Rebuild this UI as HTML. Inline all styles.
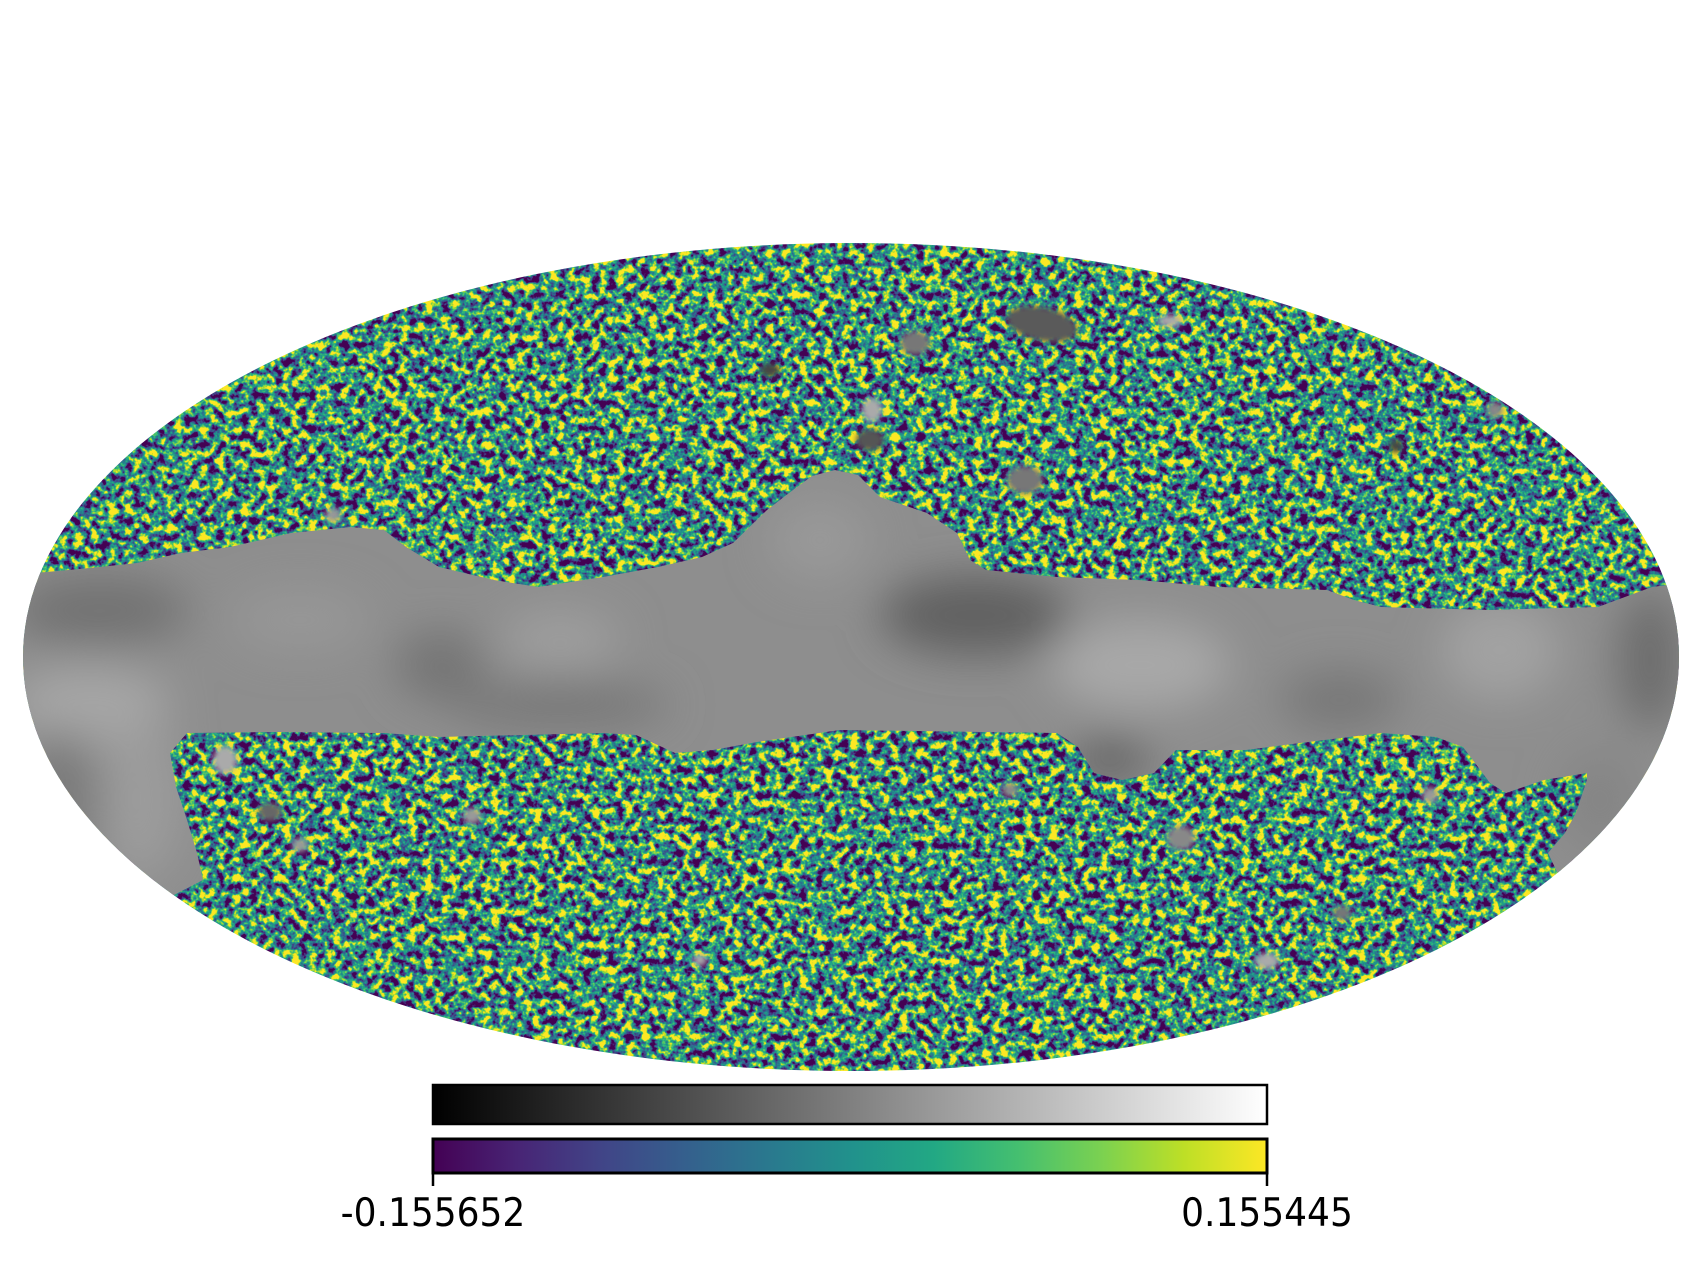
<!DOCTYPE html>
<html>
<head>
<meta charset="utf-8">
<style>
  html, body { margin: 0; padding: 0; background: #fff; }
  svg { display: block; }
</style>
</head>
<body>
<svg width="1684" height="1263" viewBox="0 0 1684 1263" xmlns="http://www.w3.org/2000/svg">
  <defs>
    <clipPath id="ell">
      <ellipse cx="851" cy="657" rx="828" ry="414"/>
    </clipPath>
    <clipPath id="band">
      <path d="M0,576 L36,573 L90,568 L137,563 L181,553 L230,547 L291,533 L351,527 L384,530 L406,547 L439,567 L494,580 L538,587 L603,577 L658,567 L702,557 L733,543 L767,510 L793,490 L812,476 L835,470 L858,475 L880,497 L927,513 L957,533 L970,560 L986,570 L1057,577 L1138,580 L1219,587 L1327,590 L1354,600 L1381,607 L1490,610 L1598,607 L1652,587 L1684,583 L1684,880 L1560,878 L1548,853 L1565,833 L1576,813 L1587,780 L1587,773 L1544,780 L1506,793 L1490,783 L1463,747 L1436,737 L1381,733 L1300,743 L1246,750 L1176,750 L1154,773 L1122,780 L1094,773 L1078,747 L1057,733 L840,730 L757,742 L713,750 L675,753 L636,735 L603,733 L439,737 L384,733 L274,732 L187,733 L181,740 L170,753 L176,787 L187,820 L197,853 L203,880 L170,897 L0,897 Z"/>
    </clipPath>
    <filter id="vir" filterUnits="userSpaceOnUse" x="0" y="230" width="1684" height="860" color-interpolation-filters="sRGB">
      <feTurbulence type="fractalNoise" baseFrequency="0.12" numOctaves="3" seed="7"/>
      <feColorMatrix type="matrix" values="3.0 0 0 0 -1.0  3.0 0 0 0 -1.0  3.0 0 0 0 -1.0  0 0 0 0 1"/>
      <feComponentTransfer>
        <feFuncR type="table" tableValues="0.267 0.282 0.255 0.208 0.165 0.129 0.133 0.267 0.478 0.741 0.992"/>
        <feFuncG type="table" tableValues="0.004 0.141 0.267 0.373 0.471 0.569 0.659 0.749 0.820 0.875 0.906"/>
        <feFuncB type="table" tableValues="0.329 0.459 0.529 0.553 0.557 0.549 0.518 0.439 0.318 0.149 0.145"/>
      </feComponentTransfer>
    </filter>
    <filter id="blur" filterUnits="userSpaceOnUse" x="0" y="400" width="1684" height="600">
      <feGaussianBlur stdDeviation="22"/>
    </filter>
    <filter id="blur2" filterUnits="userSpaceOnUse" x="0" y="200" width="1684" height="900">
      <feGaussianBlur stdDeviation="3"/>
    </filter>
    <linearGradient id="gray" x1="0" y1="0" x2="1" y2="0">
      <stop offset="0" stop-color="#000"/>
      <stop offset="1" stop-color="#fff"/>
    </linearGradient>
    <linearGradient id="viridis" x1="0" y1="0" x2="1" y2="0">
      <stop offset="0" stop-color="#440154"/>
      <stop offset="0.1" stop-color="#482475"/>
      <stop offset="0.2" stop-color="#414487"/>
      <stop offset="0.3" stop-color="#355f8d"/>
      <stop offset="0.4" stop-color="#2a788e"/>
      <stop offset="0.5" stop-color="#21918c"/>
      <stop offset="0.6" stop-color="#22a884"/>
      <stop offset="0.7" stop-color="#44bf70"/>
      <stop offset="0.8" stop-color="#7ad151"/>
      <stop offset="0.9" stop-color="#bddf26"/>
      <stop offset="1" stop-color="#fde725"/>
    </linearGradient>
  </defs>

  <rect x="0" y="0" width="1684" height="1263" fill="#fff"/>

  <g clip-path="url(#ell)">
    <rect x="0" y="230" width="1684" height="860" fill="#000" filter="url(#vir)"/>

    <g filter="url(#blur2)">
      <ellipse cx="1042" cy="324" rx="36" ry="17" fill="#5a5a5a" transform="rotate(12 1042 324)"/>
      <ellipse cx="915" cy="343" rx="15" ry="12" fill="#777"/>
      <ellipse cx="770" cy="370" rx="10" ry="7" fill="#444"/>
      <ellipse cx="872" cy="410" rx="10" ry="12" fill="#aaa"/>
      <ellipse cx="870" cy="440" rx="14" ry="11" fill="#555"/>
      <ellipse cx="1025" cy="480" rx="18" ry="14" fill="#777"/>
      <ellipse cx="1170" cy="321" rx="12" ry="6" fill="#aaa"/>
      <ellipse cx="333" cy="515" rx="8" ry="7" fill="#999"/>
      <ellipse cx="1396" cy="446" rx="7" ry="7" fill="#444"/>
      <ellipse cx="1495" cy="410" rx="8" ry="8" fill="#888"/>
      <ellipse cx="225" cy="760" rx="12" ry="14" fill="#aaa"/>
      <ellipse cx="270" cy="812" rx="12" ry="9" fill="#666"/>
      <ellipse cx="300" cy="845" rx="8" ry="7" fill="#999"/>
      <ellipse cx="472" cy="816" rx="9" ry="8" fill="#999"/>
      <ellipse cx="1181" cy="838" rx="14" ry="12" fill="#888"/>
      <ellipse cx="1267" cy="961" rx="12" ry="8" fill="#aaa"/>
      <ellipse cx="1342" cy="913" rx="9" ry="7" fill="#777"/>
      <ellipse cx="1430" cy="795" rx="8" ry="8" fill="#999"/>
      <ellipse cx="1010" cy="790" rx="8" ry="7" fill="#888"/>
      <ellipse cx="700" cy="960" rx="7" ry="6" fill="#aaa"/>
    </g>

    <g clip-path="url(#band)">
      <rect x="0" y="450" width="1684" height="460" fill="#8e8e8e"/>
      <g filter="url(#blur)">
        <ellipse cx="100" cy="610" rx="90" ry="35" fill="#727272"/>
        <ellipse cx="90" cy="705" rx="80" ry="40" fill="#a6a6a6"/>
        <ellipse cx="140" cy="800" rx="40" ry="80" fill="#9c9c9c"/>
        <ellipse cx="60" cy="800" rx="40" ry="70" fill="#7a7a7a"/>
        <ellipse cx="300" cy="620" rx="70" ry="30" fill="#979797"/>
        <ellipse cx="440" cy="665" rx="45" ry="35" fill="#747474"/>
        <ellipse cx="560" cy="640" rx="60" ry="30" fill="#9e9e9e"/>
        <ellipse cx="560" cy="705" rx="110" ry="22" fill="#767676"/>
        <ellipse cx="820" cy="540" rx="50" ry="40" fill="#999"/>
        <ellipse cx="975" cy="615" rx="95" ry="40" fill="#616161"/>
        <ellipse cx="1140" cy="665" rx="90" ry="45" fill="#a8a8a8"/>
        <ellipse cx="1110" cy="760" rx="40" ry="20" fill="#5e5e5e"/>
        <ellipse cx="1340" cy="700" rx="60" ry="30" fill="#777"/>
        <ellipse cx="1500" cy="650" rx="60" ry="50" fill="#a2a2a2"/>
        <ellipse cx="1650" cy="660" rx="30" ry="70" fill="#6a6a6a"/>
        <ellipse cx="1600" cy="800" rx="40" ry="50" fill="#858585"/>
      </g>
    </g>
  </g>

  <rect x="433" y="1085" width="834" height="39" fill="url(#gray)" stroke="#000" stroke-width="2.5"/>
  <rect x="433" y="1139" width="834" height="34" fill="url(#viridis)" stroke="#000" stroke-width="3"/>
  <line x1="433" y1="1173" x2="433" y2="1186" stroke="#000" stroke-width="2.5"/>
  <line x1="1267" y1="1173" x2="1267" y2="1186" stroke="#000" stroke-width="2.5"/>

  <g transform="matrix(1 0 0 1.1 0 -122.6)" font-family="DejaVu Sans, Liberation Sans, sans-serif" font-size="36" fill="#000" text-anchor="middle">
    <text x="433" y="1226">-0.155652</text>
    <text x="1267" y="1226">0.155445</text>
  </g>
</svg>
</body>
</html>
